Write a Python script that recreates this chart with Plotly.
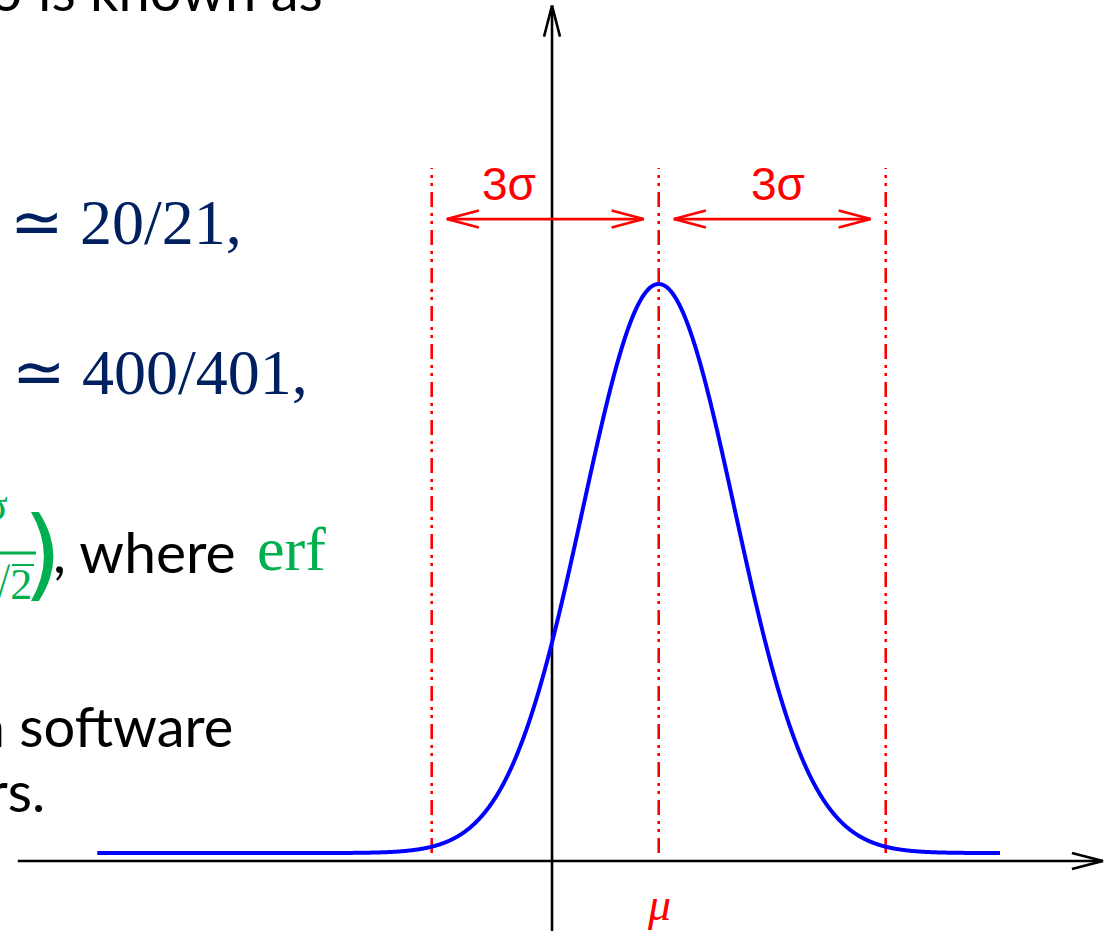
import numpy as np
import plotly.graph_objects as go

W, H = 1120, 931

# Normal distribution drawn against a pair of plain axes.
# x is measured from the vertical axis, in units of sigma.
mu = 1.41
sigma = 1.0
n_sigma = 3
peak_height = 1.0
baseline_lift = 0.014
curve_x_start = -6.01
curve_x_end = 5.92

# Annotation layout (data units)
guide_top = 1.218
arrow_level = 1.128
label_level = 1.19
arrow_inset = 0.2
sigma_label_offsets = [-1.98, 1.57]
sigma_labels = ["3σ", "3σ"]
mu_label = "μ"

# Axis extents (data units)
x_range = [-7.295, 7.506]
y_range = [-0.123, 1.513]
h_axis_span = [-7.06, 7.28]
v_axis_top = 1.503

px_x = W / (x_range[1] - x_range[0])
px_y = H / (y_range[1] - y_range[0])

BLUE = "#0000FF"
RED = "#FF0000"
BLACK = "#000000"
NAVY = "#002060"
GREEN = "#00B050"

fig = go.Figure()


def chevron(tip_x, tip_y, direction, length_px, half_px, color, width):
    """Open V arrowhead at (tip_x, tip_y) pointing along direction ('left','right','up')."""
    if direction in ("left", "right"):
        s = 1 if direction == "right" else -1
        bx = tip_x - s * length_px / px_x
        xs = [bx, tip_x, bx]
        ys = [tip_y + half_px / px_y, tip_y, tip_y - half_px / px_y]
    else:
        by = tip_y - length_px / px_y
        xs = [tip_x - half_px / px_x, tip_x, tip_x + half_px / px_x]
        ys = [by, tip_y, by]
    fig.add_trace(go.Scatter(x=xs, y=ys, mode="lines",
                             line=dict(color=color, width=width),
                             hoverinfo="skip", showlegend=False))


def segment(x0, y0, x1, y1, color, width, dash="solid"):
    fig.add_trace(go.Scatter(x=[x0, x1], y=[y0, y1], mode="lines",
                             line=dict(color=color, width=width, dash=dash),
                             hoverinfo="skip", showlegend=False))


# Axes
segment(h_axis_span[0], 0, h_axis_span[1], 0, BLACK, 2.6)
chevron(h_axis_span[1], 0, "right", 31, 8, BLACK, 2.6)
segment(0, y_range[0], 0, v_axis_top, BLACK, 2.6)
chevron(0, v_axis_top, "up", 31, 8, BLACK, 2.6)

# Dash-dot-dot guides at mu - 3 sigma, mu, mu + 3 sigma
guide_xs = [mu - n_sigma * sigma, mu, mu + n_sigma * sigma]
for gx in guide_xs:
    segment(gx, baseline_lift, gx, guide_top, RED, 2.6,
            dash="15px,6px,3px,5px,3px,6px")

# Double-headed 3-sigma arrows
for a, b in [(mu - n_sigma * sigma, mu), (mu, mu + n_sigma * sigma)]:
    left = a + arrow_inset * sigma
    right = b - arrow_inset * sigma
    segment(left, arrow_level, right, arrow_level, RED, 2.6)
    chevron(left, arrow_level, "left", 32, 8.5, RED, 2.6)
    chevron(right, arrow_level, "right", 32, 8.5, RED, 2.6)

for off, txt in zip(sigma_label_offsets, sigma_labels):
    fig.add_annotation(x=mu + off * sigma, y=label_level, text=txt,
                       showarrow=False, xanchor="center", yanchor="middle",
                       font=dict(family="Liberation Sans", size=46, color=RED))

fig.add_annotation(x=mu, y=-0.077, text=f"<i>{mu_label}</i>", showarrow=False,
                   xanchor="center", yanchor="middle",
                   font=dict(family="Liberation Serif", size=46, color=RED))

# Gaussian curve
x = np.linspace(curve_x_start, curve_x_end, 1200)
y = baseline_lift + peak_height * np.exp(-0.5 * ((x - mu) / sigma) ** 2)
fig.add_trace(go.Scatter(x=x, y=y, mode="lines",
                         line=dict(color=BLUE, width=4, shape="spline"),
                         hoverinfo="skip", showlegend=False))


# Surrounding slide text (partly cut off at the left edge)
def at(px, py):
    return px / W, 1 - py / H


def slide_text(text, right_px, mid_px, family, size, color):
    xp, yp = at(right_px, mid_px)
    fig.add_annotation(x=xp, y=yp, xref="paper", yref="paper", text=text,
                       showarrow=False, xanchor="right", yanchor="middle",
                       font=dict(family=family, size=size, color=color))


slide_text("The parameter σ is known as", 325, -10, "Lato", 56, BLACK)
slide_text("≃ 20/21,", 244, 222, "Liberation Serif", 64, NAVY)
slide_text("≃ 400/401,", 310, 373, "Liberation Serif", 64, NAVY)
slide_text(", where", 238, 551, "Lato", 57, BLACK)
slide_text("erf", 328, 549, "Liberation Serif", 62, GREEN)
slide_text("available in software", 235, 725, "Lato", 56, BLACK)
slide_text("numbers.", 47, 790, "Lato", 56, BLACK)

# Fraction fragment: numerator, bar, radical, denominator and closing parenthesis
slide_text("σ", 10, 505, "Liberation Serif", 44, GREEN)
xa, ya = at(0, 553)
xb, _ = at(36, 553)
fig.add_shape(type="line", xref="paper", yref="paper", x0=xa, y0=ya, x1=xb, y1=ya,
              line=dict(color=GREEN, width=3))
ra, rya = at(12, 565)
rb, _ = at(34, 565)
fig.add_shape(type="line", xref="paper", yref="paper", x0=ra, y0=rya, x1=rb, y1=rya,
              line=dict(color=GREEN, width=2))
slide_text("√2", 34, 584, "Liberation Serif", 44, GREEN)
slide_text(")", 64, 553, "DejaVu Sans", 100, GREEN)

fig.update_layout(
    width=W, height=H,
    margin=dict(l=0, r=0, t=0, b=0),
    paper_bgcolor="white", plot_bgcolor="white",
    xaxis=dict(range=x_range, visible=False, fixedrange=True),
    yaxis=dict(range=y_range, visible=False, fixedrange=True),
    showlegend=False,
)

fig.write_html("out.html")
